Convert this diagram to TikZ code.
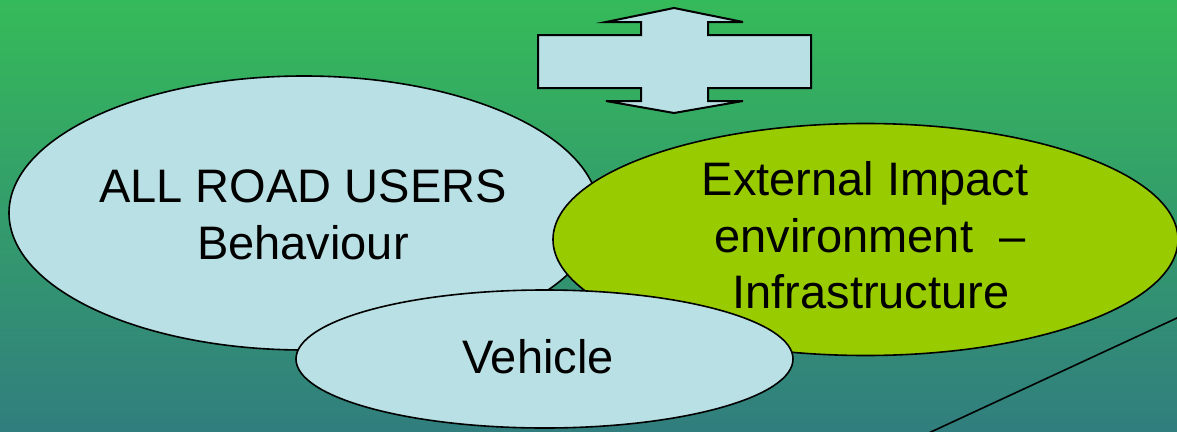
\documentclass[tikz,border=0pt]{standalone}
\usepackage{fontspec}
\setmainfont{Liberation Sans}
\usetikzlibrary{shapes.geometric,calc}
\definecolor{bgtop}{RGB}{53,186,89}
\definecolor{bgbottom}{RGB}{49,126,126}
\definecolor{paleblue}{RGB}{185,224,228}
\definecolor{limegreen}{RGB}{153,204,0}
\tikzset{
  blob/.style={ellipse, draw=black, line width=1.6pt, inner sep=0pt},
  label/.style={anchor=base, inner sep=0pt, font=\fontsize{47}{57}\selectfont},
  outline/.style={draw=black, line width=2pt, line join=miter},
}
\begin{document}
\begin{tikzpicture}[x=1pt, y=-1pt]
  % canvas with vertical gradient
  \useasboundingbox (0,0) rectangle (1177,431);
  \shade[top color=bgtop, bottom color=bgbottom] (0,0) rectangle (1177,431);
  \clip (0,0) rectangle (1177,431);

  % four-way arrow
  \path[outline, fill=paleblue]
    (674,8) -- (743,22) -- (708,22) -- (708,35) -- (811,35) -- (811,88)
    -- (708,88) -- (708,101) -- (743,101) -- (674,113) -- (606,101)
    -- (641,101) -- (641,88) -- (538,88) -- (538,35) -- (641,35)
    -- (641,22) -- (606,22) -- cycle;

  % the three overlapping ellipses
  \node[blob, fill=paleblue, minimum width=590pt, minimum height=274pt] (users) at (304,213) {};
  \node[blob, fill=limegreen, minimum width=625pt, minimum height=232pt] (impact) at (865.5,239.5) {};
  \node[blob, fill=paleblue, minimum width=497pt, minimum height=138pt] (vehicle) at (544.5,359) {};

  % diagonal line at the lower right
  \coordinate (lineA) at (1177,318);
  \coordinate (lineB) at (933,431);
  \draw[line width=1.6pt] ($(lineA)!-0.1!(lineB)$) -- ($(lineA)!1.1!(lineB)$);

  % texts
  \node[label] (usersA) at (303,202) {ALL ROAD USERS};
  \node[label] (usersB) at (303,259) {Behaviour};
  \node[label] (impactA) at (865,195) {External Impact};
  \node[label] (impactB) at (870,252) {environment \ –};
  \node[label] (impactC) at (871,308) {Infrastructure};
  \node[label] (vehicleA) at (538,373) {Vehicle};
\end{tikzpicture}
\end{document}
